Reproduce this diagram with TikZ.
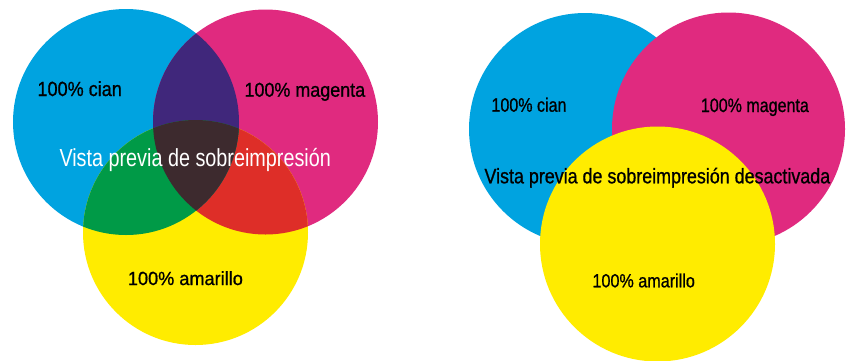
\documentclass[tikz,border=0pt]{standalone}
\usepackage{fontspec}
\setmainfont{Liberation Sans}
\newfontfamily\heavy[FakeBold=0.9]{Liberation Sans}
\usepackage{graphicx}
\definecolor{cyanC}{HTML}{00A3E0}
\definecolor{magC}{HTML}{E02A7F}
\definecolor{yelC}{HTML}{FFEC00}
\definecolor{purC}{HTML}{40277B}
\definecolor{grnC}{HTML}{009A47}
\definecolor{redC}{HTML}{DE2E28}
\definecolor{drkC}{HTML}{3D2A2E}
\newcommand{\lbl}[3]{{\fontsize{#1}{#1}\selectfont\resizebox{#2}{\height}{#3}}}
\tikzset{txt/.style={inner sep=0pt, anchor=base west, font=\heavy}}
\begin{document}
\begin{tikzpicture}[x=1pt,y=-1pt]
\useasboundingbox (0,0) rectangle (846,360);
\fill[white] (0,0) rectangle (846,360);
% ---------- left: overprint preview ----------
\fill[cyanC] (126,122) circle[radius=113];
\fill[magC] (265.5,122) circle[radius=112.5];
\fill[yelC] (195.5,232.5) circle[radius=112.5];
\begin{scope}
  \clip (265.5,122) circle[radius=112.5];
  \fill[redC] (195.5,232.5) circle[radius=112.5];
\end{scope}
\begin{scope}
  \clip (126,122) circle[radius=113];
  \fill[purC] (265.5,122) circle[radius=112.5];
  \fill[grnC] (195.5,232.5) circle[radius=112.5];
  \clip (265.5,122) circle[radius=112.5];
  \fill[drkC] (195.5,232.5) circle[radius=112.5];
\end{scope}
\node[txt] (lc) at (37.3,96) {\lbl{20.5}{84.4pt}{100\% cian}};
\node[txt] (lm) at (244.3,96.7) {\lbl{20}{120.7pt}{100\% magenta}};
\node[txt] (ly) at (127.7,285) {\lbl{19}{115pt}{100\% amarillo}};
\node[txt, font=\rmfamily, text=white] (lw) at (59.3,166.7) {\lbl{24.7}{271.4pt}{Vista previa de sobreimpresión}};
% ---------- right: overprint preview off ----------
\fill[cyanC] (585,129) circle[radius=116];
\fill[magC] (728.5,129) circle[radius=116.5];
\fill[yelC] (657.5,244) circle[radius=117.5];
\node[txt] (rc) at (491.3,111.7) {\lbl{19.5}{75pt}{100\% cian}};
\node[txt] (rm) at (700.7,112) {\lbl{19.5}{108pt}{100\% magenta}};
\node[txt] (ry) at (592.3,287.3) {\lbl{19}{102.4pt}{100\% amarillo}};
\node[txt] (rw) at (484.3,183.3) {\lbl{21}{345.7pt}{Vista previa de sobreimpresión desactivada}};
\end{tikzpicture}
\end{document}
